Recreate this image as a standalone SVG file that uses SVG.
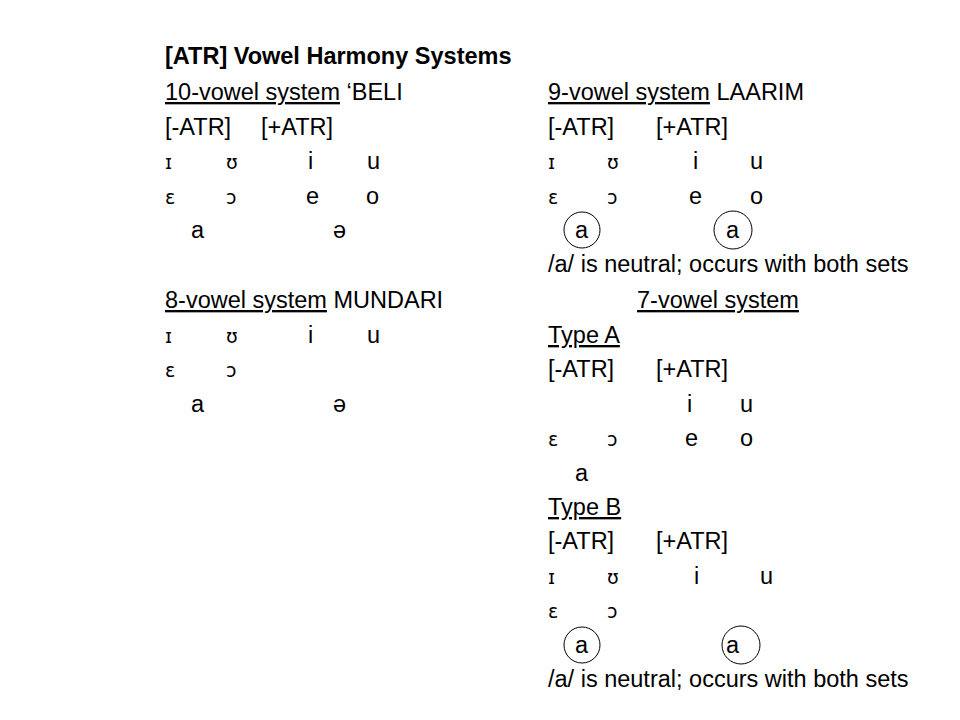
<svg xmlns="http://www.w3.org/2000/svg" width="960" height="720" viewBox="0 0 960 720">
<style>
text{font-family:"Liberation Sans",Arial,sans-serif;font-size:23.5px;fill:#000}
.s{font-size:19px;font-family:"DejaVu Sans","Liberation Sans",sans-serif}
.u{text-decoration:underline}
.b{font-weight:bold}
circle{fill:none;stroke:#000;stroke-width:1}
</style>
<rect width="960" height="720" fill="#fff"/>
<g id="left">
<text x="165" y="64" class="b">[ATR] Vowel Harmony Systems</text>
<text x="165" y="100"><tspan class="u">10-vowel system</tspan>  ‘BELI</text>
<text x="165" y="135">[-ATR]</text><text x="261" y="135">[+ATR]</text>
<text x="165" y="169" class="s">ɪ</text><text x="226" y="169" class="s">ʊ</text><text x="308" y="169">i</text><text x="367" y="169">u</text>
<text x="165" y="204" class="s">ɛ</text><text x="226" y="204" class="s">ɔ</text><text x="306" y="204">e</text><text x="366" y="204">o</text>
<text x="191" y="238">a</text><text x="333" y="238">ə</text>
<text x="165" y="308"><tspan class="u">8-vowel system</tspan> MUNDARI</text>
<text x="165" y="343" class="s">ɪ</text><text x="226" y="343" class="s">ʊ</text><text x="308" y="343">i</text><text x="367" y="343">u</text>
<text x="165" y="377" class="s">ɛ</text><text x="226" y="377" class="s">ɔ</text>
<text x="191" y="412">a</text><text x="333" y="412">ə</text>
</g>
<g id="right">
<text x="548" y="100"><tspan class="u">9-vowel system</tspan> LAARIM</text>
<text x="548" y="135">[-ATR]</text><text x="656" y="135">[+ATR]</text>
<text x="548" y="169" class="s">ɪ</text><text x="607" y="169" class="s">ʊ</text><text x="693" y="169">i</text><text x="750" y="169">u</text>
<text x="548" y="204" class="s">ɛ</text><text x="607" y="204" class="s">ɔ</text><text x="689" y="204">e</text><text x="750" y="204">o</text>
<text x="575" y="238">a</text><text x="726" y="238">a</text>
<circle cx="582" cy="230" r="18"/><circle cx="733" cy="230" r="19"/>
<text x="548" y="272">/a/ is neutral; occurs with both sets</text>
<text x="637" y="308" class="u">7-vowel system</text>
<text x="548" y="343" class="u">Type A</text>
<text x="548" y="377">[-ATR]</text><text x="656" y="377">[+ATR]</text>
<text x="687" y="412">i</text><text x="740" y="412">u</text>
<text x="548" y="446" class="s">ɛ</text><text x="607" y="446" class="s">ɔ</text><text x="685" y="446">e</text><text x="740" y="446">o</text>
<text x="575" y="481">a</text>
<text x="548" y="515" class="u">Type B</text>
<text x="548" y="549">[-ATR]</text><text x="656" y="549">[+ATR]</text>
<text x="548" y="584" class="s">ɪ</text><text x="607" y="584" class="s">ʊ</text><text x="694" y="584">i</text><text x="760" y="584">u</text>
<text x="548" y="618" class="s">ɛ</text><text x="607" y="618" class="s">ɔ</text>
<text x="575" y="653">a</text><text x="726" y="653">a</text>
<circle cx="582" cy="645" r="18"/><circle cx="741" cy="645" r="19"/>
<text x="548" y="687">/a/ is neutral; occurs with both sets</text>
</g>
<g id="connectors"/>
</svg>
